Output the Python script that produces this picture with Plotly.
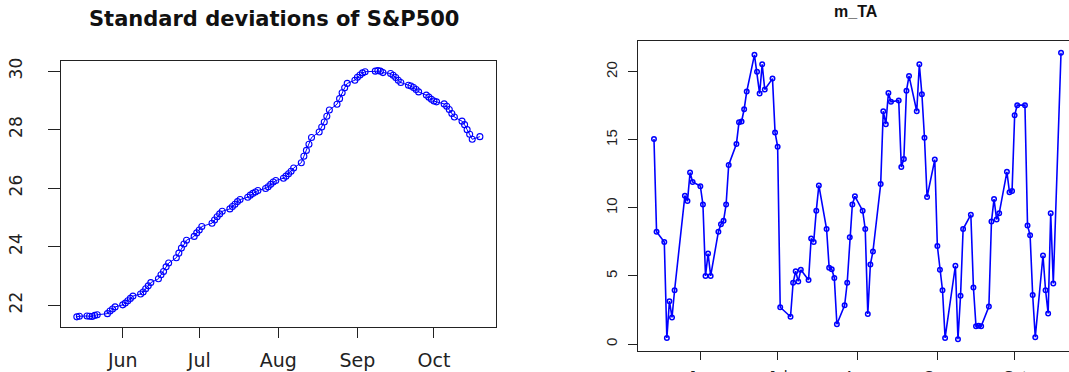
import pandas as pd
import plotly.graph_objects as go

# ---- data ----
holidays = ["2015-05-25", "2015-07-03", "2015-09-07"]
dates = [d for d in pd.bdate_range("2015-05-14", "2015-10-19") if d.strftime("%Y-%m-%d") not in holidays]

sd_sp500 = [
    21.60, 21.62, 21.63, 21.62, 21.61, 21.65, 21.67, 21.71, 21.80, 21.87, 21.94,
    22.01, 22.07, 22.15, 22.23, 22.31, 22.38, 22.45, 22.56, 22.66, 22.77, 22.90,
    23.04, 23.15, 23.31, 23.44, 23.62, 23.78, 23.95, 24.09, 24.22, 24.35, 24.47,
    24.57, 24.69, 24.80, 24.91, 25.02, 25.12, 25.21, 25.29, 25.37, 25.45, 25.54,
    25.61, 25.69, 25.76, 25.82, 25.87, 25.92, 25.99, 26.05, 26.13, 26.21, 26.26,
    26.34, 26.41, 26.49, 26.58, 26.69, 26.87, 27.09, 27.29, 27.50, 27.73, 27.92,
    28.09, 28.26, 28.46, 28.67, 28.87, 29.06, 29.26, 29.43, 29.58, 29.69,
    29.79, 29.87, 29.94, 29.98, 30.00, 30.02, 30.00, 29.95, 29.92, 29.86, 29.78,
    29.69, 29.61, 29.52, 29.49, 29.44, 29.37, 29.29, 29.18, 29.11, 29.04,
    28.98, 28.95, 28.88, 28.80, 28.69, 28.55, 28.43, 28.29, 28.17, 28.00, 27.84,
    27.67, 27.76,
]

m_ta = [
    15.07, 8.25, 7.50, 0.45, 3.15, 1.95, 3.95, 10.90, 10.50, 12.60, 11.90,
    11.60, 10.25, 5.00, 6.65, 5.00, 8.25, 8.80, 9.05, 10.25, 13.15,
    14.70, 16.30, 16.35, 17.25, 18.55, 21.25, 20.00, 18.40, 20.55, 18.70,
    19.50, 15.55,
    14.50, 2.70, 2.00, 4.50, 5.35, 4.60, 5.45, 4.70, 7.75, 7.50, 9.80, 11.65,
    8.45, 5.60, 5.50, 4.85, 1.45, 2.85, 4.50, 7.85, 10.25, 10.85,
    9.80, 8.45, 2.20, 5.85, 6.80, 11.75, 17.10, 16.15, 18.45, 17.80,
    17.90, 13.00, 13.60, 18.60, 19.70, 17.10, 20.55, 18.35, 15.15, 10.80, 13.55,
    7.20, 5.45, 3.95, 0.45, 5.75, 0.35, 3.55, 8.45, 9.50, 4.15, 1.30, 1.35, 1.30,
    2.75, 9.00, 10.65, 9.15, 9.60, 12.65, 11.15, 11.25,
    16.80, 17.55, 17.55, 8.70, 8.00, 3.60, 0.50, 6.50, 3.95, 2.25, 9.60, 4.45, 21.40,
]

month_ticks = ["2015-06-01", "2015-07-01", "2015-08-01", "2015-09-01", "2015-10-01"]
month_labels = ["Jun", "Jul", "Aug", "Sep", "Oct"]
left_yticks = [22, 24, 26, 28, 30]
right_yticks = [0, 5, 10, 15, 20]

W, H = 1069, 372

def r_range(vals):
    lo, hi = min(vals), max(vals)
    e = 0.04 * (hi - lo)
    return [lo - e, hi + e]

d0, d1 = dates[0], dates[-1]
span = d1 - d0
x_lo = d0 - 0.04 * span
x_hi = d1 + 0.04 * span
# right panel is cut at the page edge
vis_frac = (1069 - 637.7) / (1077.3 - 637.7)
x_hi_right = x_lo + (x_hi - x_lo) * vis_frac

blue = "#0000FF"
line_col = "#222222"

fig = go.Figure()
fig.add_trace(go.Scatter(
    x=dates, y=sd_sp500, mode="lines+markers", xaxis="x", yaxis="y",
    line=dict(color=blue, width=1),
    marker=dict(symbol="circle-open", size=6, color=blue, line=dict(width=1.1, color=blue)),
    showlegend=False,
))
fig.add_trace(go.Scatter(
    x=dates, y=m_ta, mode="lines+markers", xaxis="x2", yaxis="y2",
    line=dict(color=blue, width=1.6),
    marker=dict(symbol="circle-open", size=4.5, color=blue, line=dict(width=1.5, color=blue)),
    showlegend=False,
))

def px_x(p):
    return p / W

def px_y(p):
    return 1 - p / H

fig.update_layout(
    width=W, height=H,
    margin=dict(l=0, r=0, t=0, b=0, autoexpand=False),
    paper_bgcolor="white", plot_bgcolor="white",
    xaxis=dict(
        domain=[px_x(60.7), px_x(496)], anchor="y", automargin=False,
        range=[x_lo, x_hi], type="date",
        tickvals=month_ticks, ticktext=month_labels,
        ticks="outside", ticklen=10, tickwidth=1, tickcolor=line_col,
        showline=True, mirror=True, linecolor=line_col, linewidth=1,
        showgrid=False, zeroline=False,
        tickfont=dict(family="DejaVu Sans", size=19, color="#222"),
        ticklabelstandoff=6,
    ),
    yaxis=dict(
        domain=[px_y(326.7), px_y(60.7)], anchor="x", automargin=False,
        range=r_range(sd_sp500),
        tickvals=left_yticks, ticktext=[str(v) for v in left_yticks],
        tickangle=-90,
        ticks="outside", ticklen=12, tickwidth=1, tickcolor=line_col,
        showline=True, mirror=True, linecolor=line_col, linewidth=1,
        showgrid=False, zeroline=False,
        tickfont=dict(family="DejaVu Sans", size=17, color="#222"),
        ticklabelstandoff=19,
    ),
    xaxis2=dict(
        domain=[px_x(637.7), 1.0], anchor="y2", automargin=False,
        range=[x_lo, x_hi_right], type="date",
        tickvals=month_ticks, ticktext=month_labels,
        ticks="outside", ticklen=8, tickwidth=1, tickcolor=line_col,
        showline=True, mirror=True, linecolor=line_col, linewidth=1,
        showgrid=False, zeroline=False,
        tickfont=dict(family="Liberation Sans", size=15, color="#222"),
        ticklabelstandoff=3,
    ),
    yaxis2=dict(
        domain=[px_y(350.7), px_y(41.3)], anchor="x2", automargin=False,
        range=r_range(m_ta),
        tickvals=right_yticks, ticktext=[str(v) for v in right_yticks],
        tickangle=-90,
        ticks="outside", ticklen=9, tickwidth=1, tickcolor=line_col,
        showline=True, mirror=False, linecolor=line_col, linewidth=1,
        showgrid=False, zeroline=False,
        tickfont=dict(family="Liberation Sans", size=15, color="#222"),
        ticklabelstandoff=5,
    ),
    annotations=[
        dict(text="<b>Standard deviations of S&P500</b>", xref="paper", yref="paper",
             x=px_x(274), y=px_y(19.5), xanchor="center", yanchor="middle", showarrow=False,
             font=dict(family="DejaVu Sans", size=21, color="#111")),
        dict(text="<b>m_TA</b>", xref="paper", yref="paper",
             x=px_x(856), y=px_y(12), xanchor="center", yanchor="middle", showarrow=False,
             font=dict(family="Liberation Sans", size=16, color="#111")),
    ],
)

fig.write_html(
    "out.html",
    config={"displayModeBar": False},
    post_script="document.body.style.margin='0';document.body.style.overflow='hidden';",
)
